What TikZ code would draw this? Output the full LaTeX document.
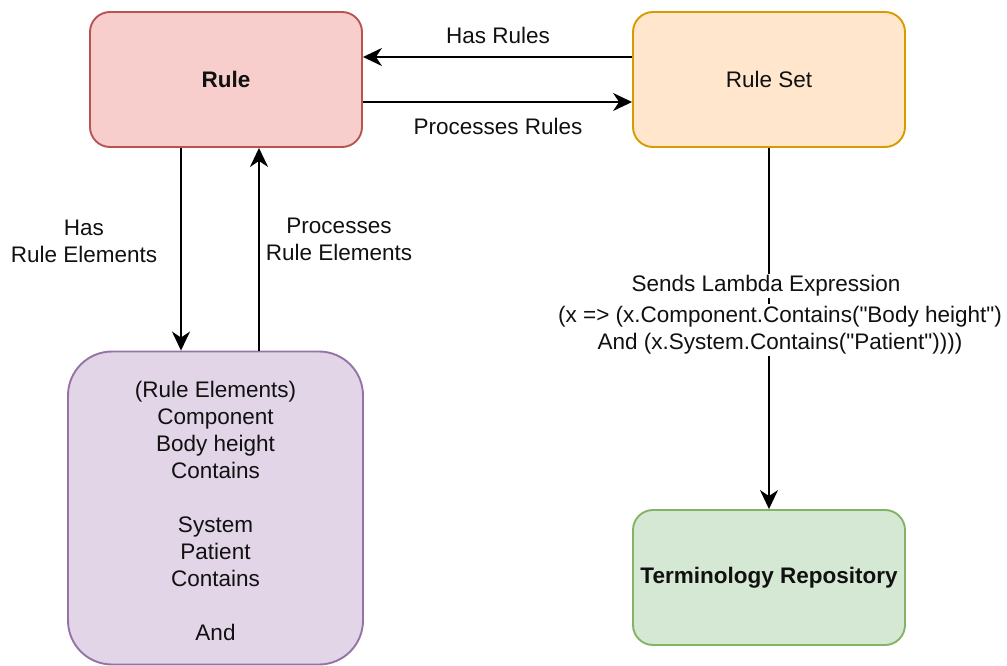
\documentclass[tikz,border=0pt]{standalone}
\usepackage{fontspec}
\setmainfont{Liberation Sans}
% plain family without TeX ligatures, so " stays a straight quote
\newfontfamily\codefont{Liberation Sans}
\usetikzlibrary{arrows.meta}
\definecolor{ruleFill}{HTML}{F8CECC}
\definecolor{ruleLine}{HTML}{B85450}
\definecolor{setFill}{HTML}{FFE6CC}
\definecolor{setLine}{HTML}{D79B00}
\definecolor{elemFill}{HTML}{E1D5E7}
\definecolor{elemLine}{HTML}{9673A6}
\definecolor{repoFill}{HTML}{D5E8D4}
\definecolor{repoLine}{HTML}{82B366}
\definecolor{ink}{HTML}{111111}
\newcommand{\txt}{\fontsize{22.5}{27}\selectfont}
\begin{document}
\begin{tikzpicture}[x=1pt,y=-1pt,
  box/.style={draw, line width=1.9pt, rounded corners=20pt,
    minimum width=272pt, minimum height=135pt, inner sep=0pt,
    align=center, text=ink, font=\txt},
  arr/.style={line width=1.9pt, draw=black,
    -{Stealth[length=19pt,width=18pt,inset=6pt]}},
  lbl/.style={align=center, text=ink, font=\txt, inner sep=2pt}]
\useasboundingbox (0,0) rectangle (1007,666);

% entities
\node[box, fill=ruleFill, draw=ruleLine] (rule) at (226,79.5) {\textbf{Rule}};
\node[box, fill=setFill, draw=setLine] (rs) at (769,79.5) {Rule Set};
\node[box, fill=elemFill, draw=elemLine, minimum width=295pt,
  minimum height=313pt, rounded corners=44pt] (pe) at (215.5,508)
  {\\[-4pt](Rule Elements)\\Component\\Body height\\Contains\\\strut\\System\\Patient\\Contains\\\strut\\And};
\node[box, fill=repoFill, draw=repoLine] (tr) at (769,577.5) {\textbf{Terminology Repository}};

% rule <-> rule set
\draw[arr] ([yshift=22.5pt]rs.west) -- ([yshift=22.5pt]rule.east);
\draw[arr] ([yshift=-22.5pt]rule.east) -- ([yshift=-22.5pt]rs.west);
\node[lbl] (lhr) at (498,35) {Has Rules};
\node[lbl] (lpr) at (498,126) {Processes Rules};

% rule <-> rule elements
\draw[arr] ([xshift=-45pt]rule.south) -- ([xshift=-45pt]rule.south |- pe.north);
\draw[arr] ([xshift=33pt]rule.south |- pe.north) -- ([xshift=33pt]rule.south);
\node[lbl] (lhe) at (84,241) {Has\\Rule Elements};
\node[lbl] (lpe) at (339,239) {Processes\\Rule Elements};

% rule set -> terminology repository
\draw[arr] (rs) -- (tr);
\node[lbl, fill=white] (lsl) at (766,286) {Sends Lambda Expression};
\node[lbl, fill=white, font=\txt\codefont] (lex) at (780,330)
  {(x => (x.Component.Contains("Body height")\\And (x.System.Contains("Patient"))))};
\end{tikzpicture}
\end{document}
